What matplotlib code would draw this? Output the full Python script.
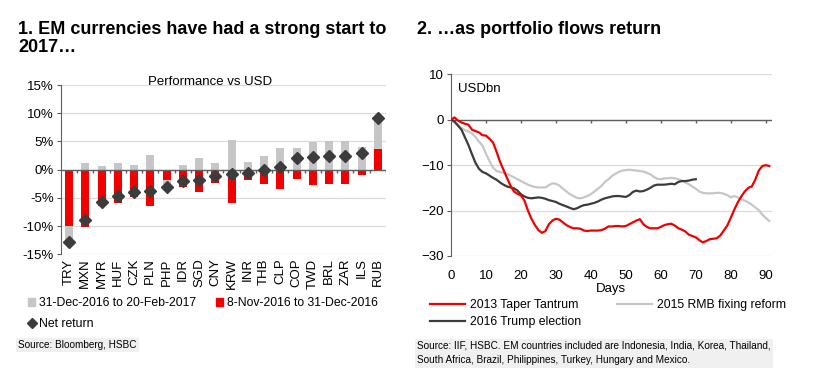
import numpy as np
import matplotlib.pyplot as plt
from matplotlib.lines import Line2D
from matplotlib.patches import Patch

plt.rcParams['font.family'] = ['Liberation Sans', 'DejaVu Sans']

# chart 1: performance vs USD (%)
currencies = ["TRY", "MXN", "MYR", "HUF", "CZK", "PLN", "PHP", "IDR", "SGD", "CNY",
              "KRW", "INR", "THB", "CLP", "COP", "TWD", "BRL", "ZAR", "ILS", "RUB"]
ytd_move = [-2.9, 1.2, 0.6, 1.2, 0.9, 2.6, -1.2, 0.9, 2.0, 1.1,
            5.2, 1.3, 2.4, 3.9, 3.8, 4.9, 5.0, 5.0, 4.0, 5.5]      # 31-Dec-2016 to 20-Feb-2017
post_election = [-9.9, -10.2, -6.4, -5.9, -4.8, -6.4, -1.9, -3.0, -4.0, -2.3,
                 -5.9, -1.9, -2.5, -3.5, -1.7, -2.7, -2.6, -2.6, -1.0, 3.6]  # 8-Nov-2016 to 31-Dec-2016
net_return = [-12.8, -9.0, -5.7, -4.7, -3.9, -3.7, -3.0, -2.0, -1.9, -1.2,
              -0.7, -0.6, -0.1, 0.4, 2.1, 2.2, 2.4, 2.4, 3.0, 9.1]

# chart 2: cumulative portfolio flows, USDbn
days = list(range(92))
taper_2013 = [0, 0.5, -0.2, -0.6, -0.9, -1.1, -2.2, -2.5, -2.8, -3.4,
              -3.5, -4.2, -5.0, -7.0, -9.2, -11.0, -12.8, -14.5, -15.8, -16.3,
              -16.7, -17.8, -20.0, -21.8, -23.2, -24.3, -24.9, -24.5, -23.0, -22.2,
              -21.8, -22.0, -22.6, -23.2, -23.6, -23.9, -23.9, -24.0, -24.4, -24.5,
              -24.4, -24.4, -24.4, -24.3, -24.0, -23.5, -23.5, -23.4, -23.4, -23.5,
              -23.4, -23.0, -22.6, -22.2, -21.9, -23.0, -23.6, -23.9, -23.9, -23.9,
              -23.6, -23.2, -23.0, -22.9, -23.3, -23.9, -24.2, -24.6, -25.3, -25.6,
              -25.9, -26.5, -27.0, -26.7, -26.3, -26.2, -26.1, -25.5, -24.4, -23.3,
              -21.6, -19.8, -18.2, -16.9, -15.8, -15.0, -14.7, -13.2, -11.2, -10.2,
              -10.0, -10.2]
rmb_2015 = [0, -0.6, -1.2, -1.8, -2.3, -2.6, -3.0, -3.8, -4.8, -5.7,
            -7.5, -9.1, -10.5, -11.3, -11.5, -11.7, -11.9, -12.3, -12.7, -13.1,
            -13.5, -13.9, -14.3, -14.6, -14.8, -14.9, -14.9, -14.9, -14.4, -14.0,
            -14.1, -14.5, -15.2, -15.8, -16.4, -16.8, -17.2, -17.3, -17.1, -16.8,
            -16.4, -15.8, -15.2, -14.6, -13.7, -13.1, -12.4, -11.9, -11.5, -11.2,
            -11.1, -11.0, -11.1, -11.2, -11.3, -11.4, -11.7, -12.0, -12.6, -13.0,
            -13.1, -12.9, -12.9, -12.8, -12.9, -13.1, -13.4, -13.8, -14.2, -14.7,
            -15.2, -15.8, -16.1, -16.2, -16.2, -16.2, -16.1, -16.1, -16.3, -16.6,
            -17.1, -16.8, -17.1, -17.5, -17.8, -18.2, -18.7, -19.3, -19.9, -20.9,
            -21.6, -22.3]
trump_2016 = [0, -0.4, -1.3, -2.2, -3.9, -5.6, -7.6, -9.5, -10.8, -11.5,
              -11.8, -12.3, -12.8, -13.2, -13.8, -14.3, -14.7, -14.9, -15.1, -15.6,
              -16.4, -16.9, -17.2, -17.3, -17.2, -17.1, -17.2, -17.4, -17.7, -17.9,
              -18.1, -18.5, -18.8, -19.1, -19.4, -19.7, -19.5, -19.1, -18.8, -18.7,
              -18.5, -18.3, -18.0, -17.6, -17.3, -17.1, -16.9, -16.8, -16.8, -16.9,
              -17.0, -16.6, -15.9, -15.6, -15.8, -15.7, -15.4, -15.0, -14.5, -14.3,
              -14.3, -14.3, -14.2, -14.1, -14.2, -13.7, -13.5, -13.5, -13.4, -13.2,
              -13.1]

RED = "#f20000"
GREY = "#c6c6c6"
DARK = "#3c3c3c"
AXIS = "#5e5e5e"
GRID = "#dcdcdc"

W, H = 820, 382
fig = plt.figure(figsize=(W / 100, H / 100), dpi=100)

def box(x0, y0, x1, y1):
    return [x0 / W, 1 - y1 / H, (x1 - x0) / W, (y1 - y0) / H]

# ---------------- left chart ----------------
ax = fig.add_axes(box(61, 85, 386, 254.3))
x = np.arange(len(currencies))
grey = np.array(ytd_move)
red = np.array(post_election)
base = np.where(np.sign(grey) == np.sign(red), red, 0)
ax.bar(x, grey, bottom=base, width=0.48, color=GREY, zorder=2)
ax.bar(x, red, width=0.48, color=RED, zorder=2)
ax.plot(x, net_return, "D", color=DARK, markersize=6, zorder=4)

ax.set_xlim(-0.5, len(currencies) - 0.5)
ax.set_ylim(-15, 15)
ax.set_yticks(np.arange(-15, 16, 5))
ax.set_yticklabels(["%d%%" % v for v in np.arange(-15, 16, 5)], fontsize=9.5)
ax.yaxis.grid(True, color=GRID, lw=0.9)
ax.set_axisbelow(True)
ax.set_xticks(x)
ax.set_xticklabels(currencies, rotation=90, fontsize=9.5)
ax.tick_params(axis="x", length=0, pad=3)
ax.tick_params(axis="y", length=3, color=AXIS, pad=2)
for s in ["top", "right", "bottom"]:
    ax.spines[s].set_visible(False)
ax.spines["left"].set_color(AXIS)
ax.axhline(0, color=AXIS, lw=1, zorder=3)
ax.vlines(np.arange(0.5, len(currencies)), -0.6, 0, color=AXIS, lw=1, zorder=3)
ax.text(0.46, 1.02, "Performance vs USD", transform=ax.transAxes,
        ha="center", va="center", fontsize=9.5)

fig.legend(handles=[Patch(color=GREY, label="31-Dec-2016 to 20-Feb-2017"),
                    Line2D([], [], marker="D", ls="none", color=DARK, markersize=5,
                           label="Net return"),
                    Patch(color=RED, label="8-Nov-2016 to 31-Dec-2016")],
           ncol=2, loc="upper left", bbox_to_anchor=(28 / W, 1 - 297 / H),
           frameon=False, fontsize=8.8, handlelength=0.6, handleheight=0.6,
           handletextpad=0.3, columnspacing=1.6, labelspacing=0.75,
           borderpad=0, borderaxespad=0)

fig.text(18 / W, 1 - 345 / H, "Source: Bloomberg, HSBC", fontsize=7.2, va="center",
         bbox=dict(facecolor="#f0f0f0", edgecolor="none", pad=1.5))

fig.text(18 / W, 1 - 21 / H, "1. EM currencies have had a strong start to\n2017\u2026",
         fontsize=13, fontweight="bold", va="top", linespacing=1.05)

# ---------------- right chart ----------------
ax2 = fig.add_axes(box(451, 74.3, 771.7, 256))
ax2.plot(days, rmb_2015, color=GREY, lw=1.6, zorder=3)
ax2.plot(range(len(trump_2016)), trump_2016, color=DARK, lw=1.6, zorder=4)
ax2.plot(days, taper_2013, color=RED, lw=1.6, zorder=5)

ax2.set_xlim(0, 91.7)
ax2.set_ylim(-30, 10)
ax2.set_yticks(np.arange(-30, 11, 10))
ax2.set_xticks(np.arange(0, 91, 10))
ax2.tick_params(axis="x", length=0, pad=10, labelsize=9.5)
ax2.tick_params(axis="y", length=3, color=AXIS, pad=2, labelsize=9.5)
ax2.yaxis.grid(True, color=GRID, lw=0.9)
ax2.set_axisbelow(True)
for s in ["top", "right", "bottom"]:
    ax2.spines[s].set_visible(False)
ax2.spines["left"].set_color(AXIS)
ax2.axhline(0, color=AXIS, lw=1, zorder=2)
ax2.vlines(np.arange(10, 91, 10), -0.8, 0, color=AXIS, lw=1, zorder=2)
ax2.set_xlabel("Days", fontsize=9.5, labelpad=1)
ax2.text(0.022, 0.92, "USDbn", transform=ax2.transAxes, va="center", fontsize=9.5)

fig.legend(handles=[Line2D([], [], color=RED, lw=1.6, label="2013 Taper Tantrum"),
                    Line2D([], [], color=DARK, lw=1.6, label="2016 Trump election"),
                    Line2D([], [], color=GREY, lw=1.6, label="2015 RMB fixing reform")],
           ncol=2, loc="upper left", bbox_to_anchor=(430 / W, 1 - 299 / H),
           frameon=False, fontsize=8.8, handlelength=2.9, handletextpad=0.4,
           columnspacing=2.9, labelspacing=0.4, borderpad=0, borderaxespad=0)

fig.text(417 / W, 1 - 353 / H,
         "Source: IIF, HSBC. EM countries included are Indonesia, India, Korea, Thailand,\n"
         "South Africa, Brazil, Philippines, Turkey, Hungary and Mexico.",
         fontsize=7.2, va="center", linespacing=1.6,
         bbox=dict(facecolor="#f0f0f0", edgecolor="none", pad=1.5))

fig.text(417 / W, 1 - 21 / H, "2. \u2026as portfolio flows return",
         fontsize=13, fontweight="bold", va="top")

fig.savefig("out.png", dpi=100)
